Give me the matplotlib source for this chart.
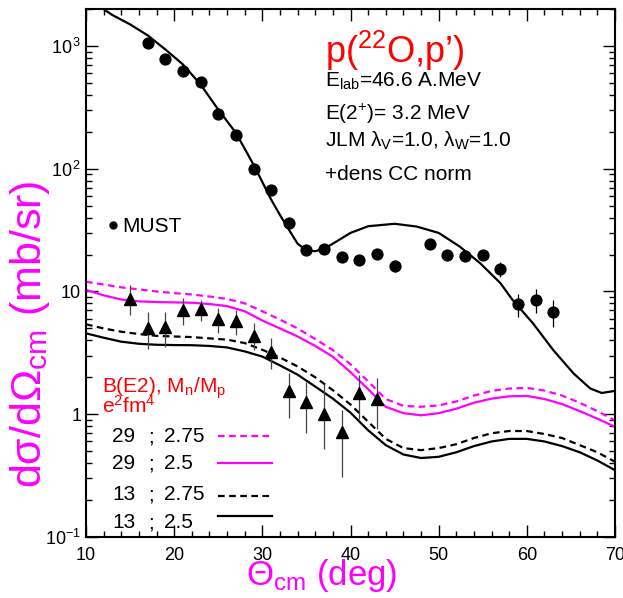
import numpy as np
import matplotlib
matplotlib.use('Agg')
import matplotlib.pyplot as plt
from matplotlib.ticker import FixedLocator, LogLocator, NullFormatter, MultipleLocator

plt.rcParams['font.family'] = 'Liberation Sans'
plt.rcParams['mathtext.fontset'] = 'custom'
plt.rcParams['mathtext.rm'] = 'Liberation Sans'
plt.rcParams['mathtext.it'] = 'Liberation Sans'
plt.rcParams['mathtext.bf'] = 'Liberation Sans'

MAG = '#ff00ff'
RED = '#ff0000'

# --- MUST data (circles), mb/sr
must_x = [17, 19, 21, 23, 25, 27, 29, 31, 33, 35, 37, 39, 41, 43, 45,
          49, 51, 53, 55, 57, 59, 61, 63]
must_y = [1054, 786, 627, 513, 281, 187, 100, 67, 36, 21.8, 22.1, 19.2, 18.2, 20.2, 16.2,
          24.4, 19.9, 19.5, 20.0, 15.3, 7.9, 8.6, 6.8]
must_err = [30, 25, 20, 18, 10, 7, 4, 3, 2, 1.2, 1.2, 1.1, 1.1, 1.3, 1.8,
            1.6, 1.4, 1.5, 1.6, 2.1, 1.7, 1.9, 1.7]

# --- inelastic data (triangles)
tri_x = [15, 17, 19, 21, 23, 25, 27, 29, 31, 33, 35, 37, 39, 41, 43]
tri_y = [8.64, 5.06, 5.16, 7.06, 7.2, 5.93, 5.78, 4.33, 3.23, 1.54, 1.25, 1.01, 0.72, 1.48, 1.34]
tri_lo = [6.4, 3.4, 3.5, 5.3, 5.7, 4.56, 4.4, 3.33, 2.32, 0.94, 0.70, 0.52, 0.31, 0.92, 0.76]
tri_hi = [11.3, 6.8, 6.8, 8.8, 8.5, 7.3, 7.06, 5.56, 4.15, 2.17, 1.83, 1.76, 1.09, 2.08, 1.96]

# --- elastic calculation
el_x = [11.96, 13, 15, 17, 19, 21, 23, 25, 27, 29, 30, 31, 32, 33, 34, 35, 36, 37, 38,
        40, 42, 45, 47.5, 50, 52.4, 54.7, 57, 58.4, 60.7, 63, 65.3, 67.2, 68.5, 70]
el_y = [2000, 1785, 1499, 1219, 936, 706, 485, 303, 196, 108, 78, 56, 42, 32, 24.5, 21.6,
        21.3, 22.3, 24.5, 30, 34, 35.6, 33.8, 30, 23.2, 17.0, 11.7, 8.5, 5.5, 3.33,
        2.15, 1.62, 1.49, 1.55]

# --- inelastic calculations, B(E2) ; Mn/Mp
th_x = [10, 12, 14, 16, 18, 20, 22, 24, 26, 28, 30, 32, 34, 36, 38, 40, 42, 44, 46,
        48, 50, 52, 54, 56, 58, 60, 62, 64, 66, 68, 70]
c29_275 = [12.0, 11.4, 10.8, 10.4, 10.0, 9.7, 9.45, 9.1, 8.7, 8.0, 6.9, 5.9, 5.0, 4.1,
           3.33, 2.55, 1.85, 1.33, 1.17, 1.15, 1.18, 1.27, 1.42, 1.55, 1.62, 1.64, 1.56,
           1.42, 1.24, 1.06, 0.89]
c29_25 = [10.3, 9.3, 8.6, 8.3, 8.2, 8.15, 8.1, 7.9, 7.6, 6.9, 5.8, 5.0, 4.3, 3.6, 2.94,
          2.2, 1.6, 1.15, 1.02, 0.98, 1.02, 1.11, 1.24, 1.34, 1.40, 1.41, 1.33, 1.21,
          1.06, 0.92, 0.79]
c13_275 = [5.4, 5.0, 4.7, 4.5, 4.35, 4.3, 4.25, 4.15, 4.05, 3.8, 3.35, 2.9, 2.45, 2.0,
           1.57, 1.2, 0.87, 0.63, 0.53, 0.51, 0.53, 0.57, 0.64, 0.70, 0.73, 0.73, 0.69,
           0.64, 0.56, 0.49, 0.41]
c13_25 = [4.56, 4.2, 3.9, 3.75, 3.68, 3.66, 3.65, 3.6, 3.5, 3.25, 2.95, 2.5, 2.1, 1.68,
          1.34, 1.03, 0.74, 0.56, 0.47, 0.44, 0.45, 0.49, 0.55, 0.60, 0.63, 0.63, 0.60,
          0.55, 0.49, 0.42, 0.35]

leg_b = ['29', '29', '13', '13']
leg_r = ['2.75', '2.5', '2.75', '2.5']

fig = plt.figure(figsize=(6.23, 5.98), dpi=100)
ax = fig.add_axes([86/623, 61/598, 529/623, 528/598])

dash = (3, 2)
ax.plot(el_x, el_y, color='k', lw=1.6)
ax.plot(th_x, c29_275, color=MAG, lw=1.6, dashes=dash)
ax.plot(th_x, c29_25, color=MAG, lw=1.6)
ax.plot(th_x, c13_275, color='k', lw=1.6, dashes=dash)
ax.plot(th_x, c13_25, color='k', lw=1.6)

ax.errorbar(must_x, must_y, yerr=must_err, fmt='o', color='k', ms=7.8,
            elinewidth=0.9, capsize=0)
ty = np.array(tri_y)
ax.errorbar(tri_x, tri_y, yerr=[ty - np.array(tri_lo), np.array(tri_hi) - ty],
            fmt='^', color='k', ms=8, ecolor='#444444', elinewidth=0.9, capsize=0)

ax.set_yscale('log')
ax.set_xlim(10, 70)
ax.set_ylim(0.1, 2000)

ax.xaxis.set_major_locator(MultipleLocator(10))
ax.xaxis.set_minor_locator(MultipleLocator(2))
ax.yaxis.set_major_locator(FixedLocator([0.1, 1, 10, 100, 1000]))
ax.yaxis.set_minor_locator(LogLocator(base=10, subs=np.arange(2, 10)))
ax.yaxis.set_minor_formatter(NullFormatter())
ax.set_yticklabels([r'$\mathregular{10^{-1}}$', '1', '10',
                    r'$\mathregular{10^{\,2}}$', r'$\mathregular{10^{\,3}}$'])

ax.tick_params(which='both', direction='in', top=True, right=True, labelsize=13, width=1)
ax.tick_params(which='major', length=8.5)
ax.tick_params(which='minor', length=4.3)
ax.tick_params(axis='x', pad=7)
for s in ax.spines.values():
    s.set_linewidth(1.5)

fig.text(30/623, (598-334)/598, r'dσ/dΩ$_{\rm cm}$ (mb/sr)', color=MAG, fontsize=31,
         rotation=90, ha='center', va='center')
fig.text(322/623, (598-585)/598, r'Θ$_{\rm cm}$ (deg)', color=MAG, fontsize=25,
         ha='center', va='baseline')

ax.text(0.452, 0.898, 'p($^{22}$O,p’)', color=RED, fontsize=26,
        transform=ax.transAxes, va='baseline')
ax.text(0.452, 0.852, r'E$_{\rm lab}$=46.6 A.MeV', fontsize=15, transform=ax.transAxes,
        va='baseline')
ax.text(0.452, 0.790, r'E(2$^{+}$)= 3.2 MeV', fontsize=15, transform=ax.transAxes,
        va='baseline')
ax.text(0.452, 0.739, r'JLM λ$_{\rm V}$=1.0, λ$_{\rm W}$=1.0', fontsize=15,
        transform=ax.transAxes, va='baseline')
ax.text(0.452, 0.676, '+dens CC norm', fontsize=15, transform=ax.transAxes, va='baseline')

ax.plot([0.0505], [0.591], 'o', color='k', ms=5, transform=ax.transAxes)
ax.text(0.068, 0.578, 'MUST', fontsize=15, transform=ax.transAxes, va='baseline')

ax.text(0.030, 0.273, r'B(E2), M$_{\rm n}$/M$_{\rm p}$', color=RED, fontsize=15,
        transform=ax.transAxes, va='baseline')
ax.text(0.030, 0.236, r'e$^{2}$fm$^{4}$', color=RED, fontsize=15,
        transform=ax.transAxes, va='baseline')

row_base = [0.179, 0.128, 0.070, 0.017]
row_line = [0.192, 0.141, 0.078, 0.040]
row_col = [MAG, MAG, 'k', 'k']
row_dash = [True, False, True, False]
for b, r, yb, yl, c, d in zip(leg_b, leg_r, row_base, row_line, row_col, row_dash):
    ax.text(0.093, yb, b, fontsize=15, transform=ax.transAxes, va='baseline', ha='right')
    ax.text(0.117, yb, ';', fontsize=15, transform=ax.transAxes, va='baseline')
    ax.text(0.147, yb, r, fontsize=15, transform=ax.transAxes, va='baseline')
    ln, = ax.plot([0.250, 0.351], [yl, yl], color=c, lw=1.6, transform=ax.transAxes)
    if d:
        ln.set_dashes(dash)

fig.savefig('out.png', dpi=100)
